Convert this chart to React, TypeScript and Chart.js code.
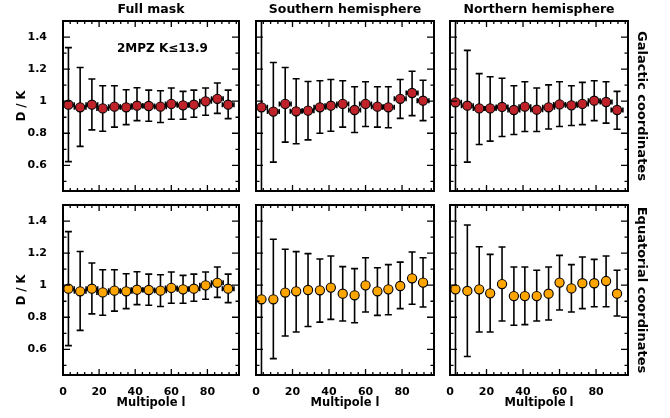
import React, { useEffect, useRef } from 'react';
import { Chart, registerables } from 'chart.js';

Chart.register(...registerables);

// ---------------- data ----------------
const multipoleL = [3, 9.5, 16, 22, 28.5, 35, 41, 47.5, 54, 60, 66.5, 72.5, 79, 85.5, 91.5];
const binHalfWidth = [3.2, 3.2, 3.2, 3.2, 3.2, 3.2, 3.2, 3.2, 3.2, 3.2, 3.2, 3.2, 3.2, 3.2, 3.2];

const xTickLabels = [0, 20, 40, 60, 80];
const yTickLabels = [0.6, 0.8, 1, 1.2, 1.4];

const columnTitles = ['Full mask', 'Southern hemisphere', 'Northern hemisphere'];
const rowTitles = ['Galactic coordinates', 'Equatorial coordinates'];
const sampleNote = '2MPZ K≤13.9';

// Full mask (same in galactic and equatorial coordinates)
const fullMaskRatio = [0.978, 0.962, 0.978, 0.955, 0.966, 0.962, 0.972, 0.970, 0.966, 0.983, 0.974, 0.978, 0.999, 1.015, 0.978];
const fullMaskLower = [0.623, 0.718, 0.821, 0.813, 0.838, 0.854, 0.879, 0.875, 0.867, 0.887, 0.887, 0.900, 0.912, 0.924, 0.891];
const fullMaskUpper = [1.334, 1.210, 1.138, 1.096, 1.096, 1.071, 1.084, 1.069, 1.065, 1.082, 1.061, 1.069, 1.082, 1.113, 1.069];

// Galactic, southern hemisphere
const galSouthRatio = [0.962, 0.935, 0.983, 0.937, 0.941, 0.962, 0.972, 0.983, 0.945, 0.983, 0.966, 0.962, 1.015, 1.051, 1.003];
const galSouthLower = [0.10, 0.620, 0.745, 0.735, 0.759, 0.800, 0.813, 0.838, 0.805, 0.842, 0.838, 0.834, 0.893, 0.910, 0.879];
const galSouthUpper = [1.90, 1.241, 1.210, 1.140, 1.123, 1.127, 1.135, 1.127, 1.090, 1.121, 1.090, 1.090, 1.135, 1.187, 1.131];

// Galactic, northern hemisphere
const galNorthRatio = [0.993, 0.972, 0.955, 0.955, 0.964, 0.945, 0.966, 0.947, 0.962, 0.980, 0.974, 0.983, 1.003, 0.995, 0.945];
const galNorthLower = [0.10, 0.620, 0.730, 0.751, 0.780, 0.792, 0.811, 0.811, 0.827, 0.842, 0.848, 0.854, 0.879, 0.863, 0.825];
const galNorthUpper = [1.90, 1.317, 1.172, 1.152, 1.143, 1.096, 1.121, 1.082, 1.102, 1.121, 1.096, 1.117, 1.127, 1.121, 1.061];

// Equatorial, southern hemisphere
const equSouthRatio = [0.912, 0.912, 0.954, 0.962, 0.970, 0.968, 0.985, 0.947, 0.937, 0.999, 0.962, 0.974, 0.995, 1.043, 1.016];
const equSouthLower = [0.10, 0.542, 0.683, 0.708, 0.742, 0.770, 0.787, 0.777, 0.766, 0.833, 0.812, 0.816, 0.854, 0.881, 0.864];
const equSouthUpper = [1.90, 1.286, 1.224, 1.209, 1.197, 1.163, 1.182, 1.116, 1.103, 1.171, 1.109, 1.128, 1.144, 1.207, 1.171];

// Equatorial, northern hemisphere
const equNorthRatio = [0.974, 0.964, 0.974, 0.949, 1.007, 0.932, 0.932, 0.932, 0.947, 1.016, 0.980, 1.012, 1.012, 1.026, 0.947];
const equNorthLower = [0.10, 0.555, 0.708, 0.708, 0.777, 0.750, 0.754, 0.777, 0.783, 0.845, 0.833, 0.854, 0.866, 0.866, 0.808];
const equNorthUpper = [1.90, 1.375, 1.240, 1.192, 1.238, 1.113, 1.113, 1.093, 1.113, 1.186, 1.128, 1.176, 1.161, 1.182, 1.093];

// ---------------- layout / style ----------------
const W = 670;
const H = 418;
const COLS: [number, number][] = [[63, 239], [256, 434], [450, 628]];
const ROWS: [number, number][] = [[21, 191], [205, 375]];
const FONT = '"DejaVu Sans", sans-serif';
const RED = '#bf2228';
const ORANGE = '#ffa500';

type PanelSpec = {
  row: number;
  col: number;
  ratio: number[];
  lower: number[];
  upper: number[];
  fill: string;
  xerr: boolean;
  note?: string;
};

const panelSpecs: PanelSpec[] = [
  { row: 0, col: 0, ratio: fullMaskRatio, lower: fullMaskLower, upper: fullMaskUpper, fill: RED, xerr: true, note: sampleNote },
  { row: 0, col: 1, ratio: galSouthRatio, lower: galSouthLower, upper: galSouthUpper, fill: RED, xerr: true },
  { row: 0, col: 2, ratio: galNorthRatio, lower: galNorthLower, upper: galNorthUpper, fill: RED, xerr: true },
  { row: 1, col: 0, ratio: fullMaskRatio, lower: fullMaskLower, upper: fullMaskUpper, fill: ORANGE, xerr: true },
  { row: 1, col: 1, ratio: equSouthRatio, lower: equSouthLower, upper: equSouthUpper, fill: ORANGE, xerr: false },
  { row: 1, col: 2, ratio: equNorthRatio, lower: equNorthLower, upper: equNorthUpper, fill: ORANGE, xerr: false },
];

function PanelChart({ spec }: { spec: PanelSpec }) {
  const ref = useRef<HTMLCanvasElement | null>(null);

  useEffect(() => {
    const canvas = ref.current;
    if (!canvas) return;
    const [L, R] = COLS[spec.col];
    const [T, B] = ROWS[spec.row];
    const showY = spec.col === 0;
    const showX = spec.row === 1;
    const showRight = spec.col === 2;
    const showTitle = spec.row === 0;
    const leftPad = 10;
    const YW = L - leftPad;
    const XH = H - B;
    const rightPad = 20;
    const RW = W - rightPad - R;

    const tickFont = { family: FONT, weight: 'bold' as const, size: 11 };
    const titleFont = { family: FONT, weight: 'bold' as const, size: 12.5, lineHeight: 1.2 };
    const axisTitleFont = { family: FONT, weight: 'bold' as const, size: 11.5, lineHeight: 1.2 };
    const rowTitleFont = { family: FONT, weight: 'bold' as const, size: 13, lineHeight: 1.2 };

    const errorBars = {
      id: 'errorBars',
      beforeDatasetsDraw(chart: any) {
        const { ctx, chartArea: a, scales } = chart;
        const xs = scales.x;
        const ys = scales.y;
        ctx.save();
        ctx.beginPath();
        ctx.rect(a.left, a.top, a.right - a.left, a.bottom - a.top);
        ctx.clip();
        ctx.strokeStyle = '#000';
        ctx.lineWidth = 1.6;
        ctx.lineCap = 'butt';
        multipoleL.forEach((l, i) => {
          const px = xs.getPixelForValue(l);
          const py = ys.getPixelForValue(spec.ratio[i]);
          const pLo = ys.getPixelForValue(spec.lower[i]);
          const pHi = ys.getPixelForValue(spec.upper[i]);
          ctx.beginPath();
          ctx.moveTo(px, pLo);
          ctx.lineTo(px, pHi);
          ctx.moveTo(px - 3.5, pLo);
          ctx.lineTo(px + 3.5, pLo);
          ctx.moveTo(px - 3.5, pHi);
          ctx.lineTo(px + 3.5, pHi);
          if (spec.xerr) {
            const pl = xs.getPixelForValue(l - binHalfWidth[i]);
            const pr = xs.getPixelForValue(l + binHalfWidth[i]);
            ctx.moveTo(pl, py);
            ctx.lineTo(pr, py);
            ctx.moveTo(pl, py - 2.5);
            ctx.lineTo(pl, py + 2.5);
            ctx.moveTo(pr, py - 2.5);
            ctx.lineTo(pr, py + 2.5);
          }
          ctx.stroke();
        });
        ctx.restore();
      },
    };

    const frameTicks = {
      id: 'frameTicks',
      afterDatasetsDraw(chart: any) {
        const { ctx, chartArea: a, scales } = chart;
        const xs = scales.x;
        const ys = scales.y;
        ctx.save();
        ctx.strokeStyle = '#000';
        ctx.lineWidth = 1.3;
        ctx.beginPath();
        for (let v = 0; v <= xs.max; v += 4) {
          const px = xs.getPixelForValue(v);
          const len = v % 20 === 0 ? 6 : 3;
          ctx.moveTo(px, a.bottom);
          ctx.lineTo(px, a.bottom - len);
          ctx.moveTo(px, a.top);
          ctx.lineTo(px, a.top + len);
        }
        for (let k = Math.ceil(ys.min * 10); k <= Math.floor(ys.max * 10); k++) {
          const py = ys.getPixelForValue(k / 10);
          const len = k % 2 === 0 ? 7 : 3.5;
          ctx.moveTo(a.left, py);
          ctx.lineTo(a.left + len, py);
          ctx.moveTo(a.right, py);
          ctx.lineTo(a.right - len, py);
        }
        ctx.stroke();
        ctx.lineWidth = 2;
        ctx.strokeRect(a.left, a.top, a.right - a.left, a.bottom - a.top);
        if (spec.note) {
          ctx.fillStyle = '#000';
          ctx.font = `bold 12px ${FONT}`;
          ctx.textAlign = 'center';
          ctx.textBaseline = 'middle';
          ctx.fillText(spec.note, a.left + (a.right - a.left) * 0.565, a.top + 28);
        }
        ctx.restore();
      },
    };

    const chart = new Chart(canvas, {
      type: 'scatter',
      data: {
        datasets: [
          {
            data: multipoleL.map((l, i) => ({ x: l, y: spec.ratio[i] })),
            pointRadius: 4.6,
            pointHoverRadius: 4.6,
            pointBackgroundColor: spec.fill,
            pointBorderColor: '#000',
            pointBorderWidth: 1.1,
            showLine: false,
          },
        ],
      },
      options: {
        responsive: false,
        animation: false,
        events: [],
        layout: {
          padding: {
            left: showY ? leftPad : L,
            right: showRight ? rightPad : W - R,
            top: showTitle ? 0 : T,
            bottom: showX ? 0 : H - B,
          },
        },
        plugins: {
          legend: { display: false },
          tooltip: { enabled: false },
          title: {
            display: showTitle,
            text: columnTitles[spec.col],
            fullSize: false,
            color: '#000',
            font: titleFont,
            padding: { top: 2, bottom: T - 2 - 15 },
          },
        },
        scales: {
          x: {
            type: 'linear',
            min: 0,
            max: 97.5,
            display: showX,
            grid: { display: false },
            border: { display: false },
            ticks: { font: tickFont, color: '#000', padding: 3, maxRotation: 0, autoSkip: false },
            afterBuildTicks: (s: any) => {
              s.ticks = xTickLabels.map((v) => ({ value: v }));
            },
            afterFit: (s: any) => {
              if (showX) s.height = XH;
            },
            title: {
              display: true,
              text: 'Multipole l',
              color: '#000',
              font: axisTitleFont,
              padding: { top: 0, bottom: 8 },
            },
          },
          y: {
            type: 'linear',
            min: 0.44,
            max: 1.5,
            display: showY,
            grid: { display: false },
            border: { display: false },
            ticks: {
              font: tickFont,
              color: '#000',
              padding: 8,
              callback: (v: any) => String(Number(Number(v).toFixed(1))),
            },
            afterBuildTicks: (s: any) => {
              s.ticks = yTickLabels.map((v) => ({ value: v }));
            },
            afterFit: (s: any) => {
              if (showY) s.width = YW;
            },
            title: {
              display: true,
              text: 'D / K',
              color: '#000',
              font: axisTitleFont,
              padding: { top: 5, bottom: 0 },
            },
          },
          y2: {
            type: 'linear',
            position: 'right',
            min: 0,
            max: 1,
            display: showRight,
            grid: { display: false },
            border: { display: false },
            ticks: { display: false },
            afterFit: (s: any) => {
              if (showRight) s.width = RW;
            },
            title: {
              display: true,
              text: rowTitles[spec.row],
              color: '#000',
              font: rowTitleFont,
              padding: { top: 1, bottom: 0 },
            },
          },
        },
      },
      plugins: [errorBars, frameTicks],
    } as any);

    return () => chart.destroy();
  }, [spec]);

  return (
    <canvas
      ref={ref}
      width={W}
      height={H}
      style={{ position: 'absolute', left: 0, top: 0, width: W, height: H }}
    />
  );
}

export default function App() {
  return (
    <div style={{ position: 'absolute', left: 0, top: 0, width: W, height: H, background: '#fff' }}>
      {panelSpecs.map((s, i) => (
        <PanelChart key={i} spec={s} />
      ))}
    </div>
  );
}
